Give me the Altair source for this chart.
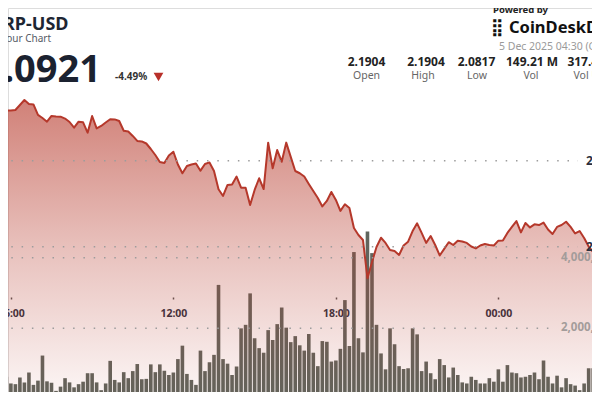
import altair as alt
import pandas as pd
from datetime import datetime, timedelta

# ---------------- data ----------------
price = [2.1904, 2.1888, 2.1865, 2.1870, 2.1841, 2.1824, 2.1806, 2.1789, 2.1791, 2.1792,
         2.1795, 2.1824, 2.1853, 2.1830, 2.1827, 2.1766, 2.1748, 2.1727, 2.1760, 2.1757,
         2.1756, 2.1745, 2.1725, 2.1692, 2.1727, 2.1723, 2.1663, 2.1760, 2.1688, 2.1702,
         2.1722, 2.1741, 2.1740, 2.1731, 2.1674, 2.1670, 2.1644, 2.1615, 2.1612, 2.1600,
         2.1568, 2.1533, 2.1492, 2.1487, 2.1530, 2.1552, 2.1478, 2.1427, 2.1469, 2.1478,
         2.1484, 2.1442, 2.1481, 2.1490, 2.1440, 2.1334, 2.1295, 2.1359, 2.1362, 2.1408,
         2.1343, 2.1343, 2.1242, 2.1330, 2.1398, 2.1335, 2.1605, 2.1456, 2.1562, 2.1494,
         2.1605, 2.1522, 2.1440, 2.1427, 2.1408, 2.1365, 2.1324, 2.1283, 2.1234, 2.1266,
         2.1318, 2.1272, 2.1208, 2.1247, 2.1225, 2.1109, 2.1068, 2.1039, 2.0817, 2.0911,
         2.0998, 2.1052, 2.1022, 2.0981, 2.0975, 2.0952, 2.1007, 2.1029, 2.1091, 2.1136,
         2.1080, 2.1022, 2.1062, 2.1010, 2.0949, 2.0987, 2.1026, 2.1010, 2.1035, 2.1030,
         2.1022, 2.1001, 2.0990, 2.1007, 2.1016, 2.1010, 2.1007, 2.1035, 2.1036, 2.1080,
         2.1115, 2.1149, 2.1083, 2.1138, 2.1112, 2.1130, 2.1126, 2.1140, 2.1100, 2.1074,
         2.1115, 2.1126, 2.1145, 2.1115, 2.1077, 2.1091, 2.1051, 2.1001, 2.0969, 2.0958,
         2.0946, 2.0937, 2.0928, 2.0921]

volume_m = [0.62, 0.45, 0.71, 0.38, 0.52, 0.47, 0.66, 0.30, 0.63, 0.44,
            0.42, 0.61, 0.47, 0.75, 0.40, 0.52, 1.23, 0.50, 0.46, 0.23,
            0.35, 0.59, 0.47, 0.33, 0.42, 0.49, 0.73, 0.73, 0.47, 0.25,
            0.44, 1.08, 0.54, 0.47, 0.76, 0.59, 0.79, 0.99, 0.56, 0.57,
            0.98, 0.76, 0.98, 0.80, 0.68, 0.75, 1.13, 1.51, 0.71, 0.54,
            0.40, 1.37, 0.79, 1.04, 1.25, 3.23, 1.13, 1.00, 0.68, 0.92,
            2.00, 2.10, 2.99, 1.72, 1.44, 1.31, 1.95, 1.67, 2.12, 2.59,
            2.02, 1.61, 1.78, 1.52, 1.37, 1.84, 1.31, 0.93, 1.64, 1.62,
            1.06, 1.09, 1.42, 2.80, 1.50, 4.16, 1.72, 1.32, 4.74, 4.13,
            2.10, 1.29, 0.84, 2.00, 1.55, 0.93, 0.85, 0.87, 2.00, 1.83,
            0.79, 1.06, 0.73, 0.56, 1.13, 0.96, 0.61, 0.89, 0.68, 0.47,
            0.44, 0.63, 0.54, 0.44, 0.44, 0.59, 0.49, 0.84, 0.49, 0.96,
            0.75, 0.73, 0.61, 0.63, 0.68, 0.75, 0.56, 1.09, 0.63, 0.44,
            0.66, 0.33, 0.59, 0.42, 0.38, 0.25, 0.44, 0.87, 0.87, 0.49,
            0.55, 0.62, 0.48, 0.70]

start = datetime(2025, 12, 4, 4, 30)
times = [(start + timedelta(minutes=10 * i)).strftime("%Y-%m-%dT%H:%M:00Z") for i in range(len(price))]

price_ticks = [2.10, 2.15]
volume_ticks = [2000000, 4000000]

title_text = "XRP-USD"
subtitle_text = "24 Hour Chart"
last_price_text = "2.0921"
change_text = "-4.49%"
powered_text = "Powered by"
brand_text = "CoinDeskData"
stamp_text = "5 Dec 2025 04:30 (GMT)"
stat_values = ["2.1904", "2.1904", "2.0817", "149.21 M", "317.4 M"]
stat_labels = ["Open", "High", "Low", "Vol", "Vol USD"]

df = pd.DataFrame({"t": times, "price": price, "vol": [v * 1e6 for v in volume_m]})

# ---------------- scales ----------------
FONT = "Noto Sans"
W, H = 584, 384
BOTTOM = 392
x_scale = alt.Scale(
    type="utc",
    domain=[alt.DateTime(year=2025, month=12, date=4, hours=4, minutes=30, utc=True),
            alt.DateTime(year=2025, month=12, date=5, hours=4, minutes=30, utc=True)],
    range=[-42.75, 617.25],
)
price_scale = alt.Scale(domain=[2.10, 2.15], range=[238.7, 152.7], zero=False, nice=False)
vol_scale = alt.Scale(domain=[0, 4000000], range=[391, 249.7], zero=False, nice=False)

x_axis = alt.Axis(
    values=[alt.DateTime(year=2025, month=12, date=4, hours=6, utc=True),
            alt.DateTime(year=2025, month=12, date=4, hours=12, utc=True),
            alt.DateTime(year=2025, month=12, date=4, hours=18, utc=True),
            alt.DateTime(year=2025, month=12, date=5, hours=0, utc=True)],
    format="%H:%M", offset=289 - H, domain=False, grid=False,
    tickSize=2, tickWidth=1.5, tickColor="#555555",
    labelFont=FONT, labelFontSize=10.5, labelFontWeight="bold", labelColor="#2b3040",
    labelPadding=9, labelOverlap=False, labelFlush=False, title=None,
)
x_plain = alt.X("t:T", scale=x_scale, axis=None)

base = alt.Chart(df)

bars = base.mark_bar(size=3.6, color="#60655d").encode(
    x=alt.X("t:T", scale=x_scale, axis=x_axis),
    y=alt.Y("vol:Q", scale=vol_scale, axis=None, stack=None),
)

gradient = alt.LinearGradient(
    gradient="linear",
    stops=[alt.GradientStop(color="rgba(183,58,44,0.66)", offset=0),
           alt.GradientStop(color="rgba(183,58,44,0.32)", offset=0.5),
           alt.GradientStop(color="rgba(183,58,44,0.04)", offset=1)],
    x1=1, x2=1, y1=0, y2=1,
)
area = base.mark_area(color=gradient).encode(
    x=x_plain,
    y=alt.Y("price:Q", scale=price_scale, axis=None, stack=None),
    y2=alt.value(BOTTOM),
)
line = base.mark_line(color="#b5382b", strokeWidth=2, strokeJoin="round").encode(
    x=x_plain,
    y=alt.Y("price:Q", scale=price_scale, axis=None, stack=None),
)

pt_df = pd.DataFrame({"p": price_ticks})
vt_df = pd.DataFrame({"v": volume_ticks})
grid_price = alt.Chart(pt_df).mark_rule(strokeDash=[1.5, 8.8], strokeDashOffset=7, strokeWidth=1.5,
                                        color="#9c9c9c").encode(
    y=alt.Y("p:Q", scale=price_scale, axis=None), x=alt.value(0), x2=alt.value(570))
grid_vol = alt.Chart(vt_df).mark_rule(strokeDash=[1.5, 8.8], strokeDashOffset=7, strokeWidth=1.5,
                                      color="#9c9c9c").encode(
    y=alt.Y("v:Q", scale=vol_scale, axis=None), x=alt.value(0), x2=alt.value(548))
price_lbl = alt.Chart(pt_df).mark_text(align="left", baseline="middle", font=FONT, fontSize=12,
                                       fontWeight="bold", color="#2b3040").encode(
    y=alt.Y("p:Q", scale=price_scale, axis=None), x=alt.value(578), text=alt.Text("p:Q", format=".2f"))
vol_lbl = alt.Chart(vt_df).mark_text(align="left", baseline="middle", font=FONT, fontSize=11.5,
                                     fontWeight="bold", color="#a39c9a").encode(
    y=alt.Y("v:Q", scale=vol_scale, axis=None), x=alt.value(553), text=alt.Text("v:Q", format=",.0f"))


def txt(s, x, y, size, color, weight="normal", align="left", baseline="alphabetic"):
    return alt.Chart(alt.Data(values=[{"label": s}])).mark_text(
        align=align, baseline=baseline, font=FONT, fontSize=size, fontWeight=weight, color=color
    ).encode(x=alt.value(x), y=alt.value(y), text="label:N")


texts = [
    txt(title_text, 60.5, 22, 18, "#1e2633", "bold", align="right"),
    txt(subtitle_text, 43, 34, 10, "#555b66", align="right"),
    txt(last_price_text, 93, 74, 38, "#1b2230", "bold", align="right"),
    txt(change_text, 107, 72, 10, "#333333", "bold"),
    txt(powered_text, 485, 4.5, 9.5, "#222222", "bold"),
    txt("\u28ff", 483, 25, 17, "#111111", "bold"),
    txt(brand_text, 501, 25, 16.5, "#111111", "bold"),
    txt(stamp_text, 491, 42, 10.5, "#9a9a9a"),
]
val_x = [358.5, 418, 468.5, 524, 582]
lab_x = [358.5, 415, 469, 523, 585]
for s, xx in zip(stat_values, val_x):
    texts.append(txt(s, xx, 58, 12, "#222222", "bold", align="center"))
for s, xx in zip(stat_labels, lab_x):
    texts.append(txt(s, xx, 70.5, 10.5, "#666666", align="center"))

tri = alt.Chart(alt.Data(values=[{"a": 1}])).mark_point(
    shape="triangle-down", filled=True, size=95, color="#b8302a", opacity=1
).encode(x=alt.value(150.5), y=alt.value(69))

chart = alt.layer(
    bars, area, line, grid_price, grid_vol, price_lbl, vol_lbl, tri, *texts
).resolve_scale(y="independent").resolve_axis(x="independent", y="independent").properties(
    width=W, height=H,
    padding=0,
    autosize=alt.AutoSizeParams(type="none"),
).configure_view(stroke="transparent").configure(background="white")

chart.save("out.html", embed_options={"renderer": "svg", "actions": False})
